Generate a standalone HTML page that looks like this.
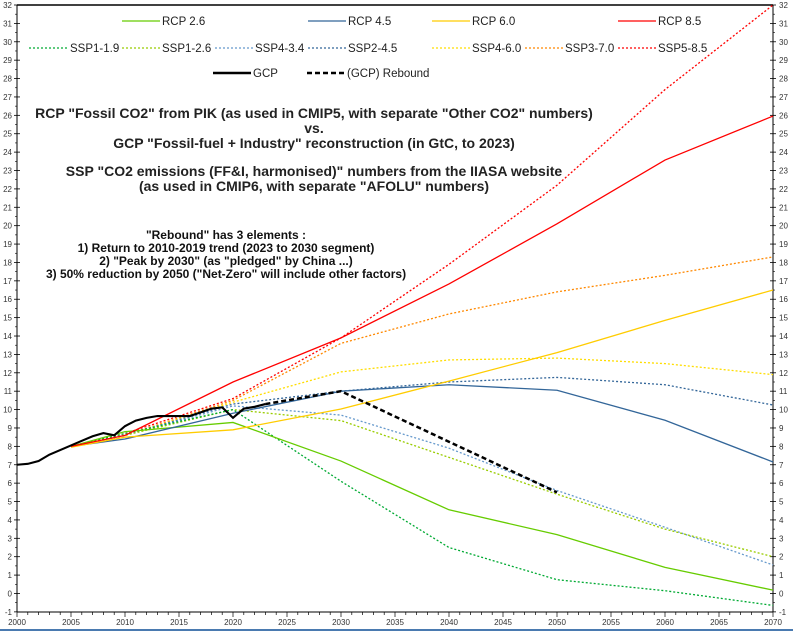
<!DOCTYPE html>
<html><head><meta charset="utf-8"><style>
html,body{margin:0;padding:0;background:#fff;}
svg{display:block;font-family:"Liberation Sans",sans-serif;}
</style></head><body>
<svg id="s" width="793" height="631" xmlns="http://www.w3.org/2000/svg"></svg>
<script>
const s=document.getElementById('s');
const X=y=>17+(y-2000)*10.8, Y=v=>5+(32-v)*18.39;
let h='<rect x="0" y="0" width="793" height="631" fill="#fff"/>';
h+=`<line x1="17" y1="5" x2="773" y2="5" stroke="#000" stroke-width="1.5"/>`;
h+=`<line x1="17" y1="5" x2="17" y2="612" stroke="#000"/>`;
h+=`<line x1="773" y1="5" x2="773" y2="612" stroke="#000"/>`;
h+=`<line x1="17" y1="612" x2="773" y2="612" stroke="#000"/>`;
h+=`<line x1="0" y1="630" x2="793" y2="630" stroke="#4a7ab0" stroke-width="2"/>`;
for(let v=-1;v<=32;v++){const y=Y(v);
 h+=`<line x1="14" y1="${y}" x2="20" y2="${y}" stroke="#000" stroke-width="0.8"/><line x1="770" y1="${y}" x2="776" y2="${y}" stroke="#000" stroke-width="0.8"/>`;
 if(v<32){const y2=Y(v+0.5);h+=`<line x1="15" y1="${y2}" x2="17" y2="${y2}" stroke="#000" stroke-width="0.6"/><line x1="773" y1="${y2}" x2="775" y2="${y2}" stroke="#000" stroke-width="0.6"/>`;}
 h+=`<text x="12" y="${y+3}" font-size="8" text-anchor="end" fill="#333">${v}</text><text x="779" y="${y+3}" font-size="8" fill="#333">${v}</text>`;}
for(let yr=2000;yr<=2070;yr++){const x=X(yr);
 h+=`<line x1="${x}" y1="612" x2="${x}" y2="${yr%5?615:617}" stroke="#000" stroke-width="0.7"/>`;
 if(yr%5==0)h+=`<text x="${x}" y="625" font-size="8" text-anchor="middle" fill="#333">${yr}</text>`;}
function line(pts,c,w,dash){h+=`<polyline fill="none" stroke="${c}" stroke-width="${w}" ${dash?`stroke-dasharray="${dash}"`:''} points="${pts.map(p=>X(p[0])+','+Y(p[1])).join(' ')}"/>`;}
const dot="2,2";
line([[2005,8],[2010,8.7],[2020,10.6],[2030,13.9],[2040,17.9],[2050,22.2],[2060,27.4],[2070,32]],'#ff0000',1.3,dot);
line([[2005,8],[2010,8.6],[2020,10.5],[2030,13.6],[2040,15.2],[2050,16.4],[2060,17.3],[2070,18.3]],'#ff8800',1.3,dot);
line([[2005,8],[2010,8.6],[2020,10.4],[2030,12.05],[2040,12.7],[2050,12.8],[2060,12.5],[2070,11.9]],'#ffdd00',1.3,dot);
line([[2005,8],[2010,8.6],[2020,10.3],[2030,11.0],[2040,11.5],[2050,11.75],[2060,11.35],[2070,10.25]],'#336699',1.3,dot);
line([[2005,8],[2010,8.6],[2020,10.2],[2030,9.7],[2040,7.9],[2050,5.6],[2060,3.6],[2070,1.55]],'#6699cc',1.3,dot);
line([[2005,8],[2010,8.6],[2020,10.0],[2030,9.4],[2040,7.4],[2050,5.4],[2060,3.5],[2070,2.0]],'#99cc00',1.3,dot);
line([[2005,8],[2010,8.7],[2020,10.0],[2030,6.1],[2040,2.5],[2050,0.75],[2060,0.15],[2070,-0.65]],'#00aa33',1.3,dot);
line([[2005,8],[2010,8.8],[2020,9.3],[2030,7.2],[2040,4.55],[2050,3.2],[2060,1.42],[2070,0.18]],'#66cc00',1.3);
line([[2005,8],[2010,8.4],[2020,9.8],[2030,11.0],[2040,11.35],[2050,11.05],[2060,9.42],[2070,7.15]],'#336699',1.3);
line([[2005,7.95],[2010,8.5],[2020,8.9],[2030,10.03],[2040,11.55],[2050,13.1],[2060,14.85],[2070,16.5]],'#ffcc00',1.3);
line([[2005,8],[2010,8.6],[2020,11.5],[2030,13.9],[2040,16.83],[2050,20.1],[2060,23.57],[2070,25.96]],'#ff0000',1.3);
line([[2023,10.3],[2030,11.0],[2050,5.5]],'#000',2.5,"5,3");
line([[2000,7.0],[2001,7.05],[2002,7.2],[2003,7.55],[2004,7.8],[2005,8.05],[2006,8.3],[2007,8.55],[2008,8.72],[2009,8.6],[2010,9.1],[2011,9.4],[2012,9.55],[2013,9.65],[2014,9.65],[2015,9.65],[2016,9.65],[2017,9.85],[2018,10.05],[2019,10.12],[2020,9.55],[2021,10.05],[2022,10.15],[2023,10.3]],'#000',2.1);
function leg(x1,x2,y,c,w,dash,t){h+=`<line x1="${x1}" y1="${y}" x2="${x2}" y2="${y}" stroke="${c}" stroke-width="${w}" ${dash?`stroke-dasharray="${dash}"`:''}/><text x="${x2+2}" y="${y+4}" font-size="11.5" fill="#222">${t}</text>`;}
leg(122,160,21,'#66cc00',1.3,0,'RCP 2.6');leg(308,346,21,'#336699',1.3,0,'RCP 4.5');
leg(432,470,21,'#ffcc00',1.3,0,'RCP 6.0');leg(618,656,21,'#ff0000',1.3,0,'RCP 8.5');
leg(29,68,48,'#00aa33',1.3,"2,2",'SSP1-1.9');leg(122,160,48,'#99cc00',1.3,"2,2",'SSP1-2.6');
leg(215,253,48,'#6699cc',1.3,"2,2",'SSP4-3.4');leg(308,346,48,'#336699',1.3,"2,2",'SSP2-4.5');
leg(432,470,48,'#ffdd00',1.3,"2,2",'SSP4-6.0');leg(525,563,48,'#ff8800',1.3,"2,2",'SSP3-7.0');
leg(618,656,48,'#ff0000',1.3,"2,2",'SSP5-8.5');
leg(213,251,73,'#000',2.5,0,'GCP');leg(307,345,73,'#000',2.5,"5,3",'(GCP) Rebound');
const T=[[113,'RCP "Fossil CO2" from PIK (as used in CMIP5, with separate "Other CO2" numbers)'],[128,'vs.'],[143,'GCP "Fossil-fuel + Industry" reconstruction (in GtC, to 2023)'],[171,'SSP "CO2 emissions (FF&amp;I, harmonised)" numbers from the IIASA website'],[186,'(as used in CMIP6, with separate "AFOLU" numbers)']];
T.forEach(t=>h+=`<text x="314" y="${t[0]+5}" font-size="14" font-weight="bold" text-anchor="middle" fill="#222">${t[1]}</text>`);
const U=[[235,'"Rebound" has 3 elements :'],[248,'1) Return to 2010-2019 trend (2023 to 2030 segment)'],[261,'2) "Peak by 2030" (as "pledged" by China ...)'],[274,'3) 50% reduction by 2050 ("Net-Zero" will include other factors)']];
U.forEach(t=>h+=`<text x="226" y="${t[0]+4}" font-size="12" font-weight="bold" text-anchor="middle" fill="#111">${t[1]}</text>`);
s.innerHTML=h;
</script>
</body></html>
